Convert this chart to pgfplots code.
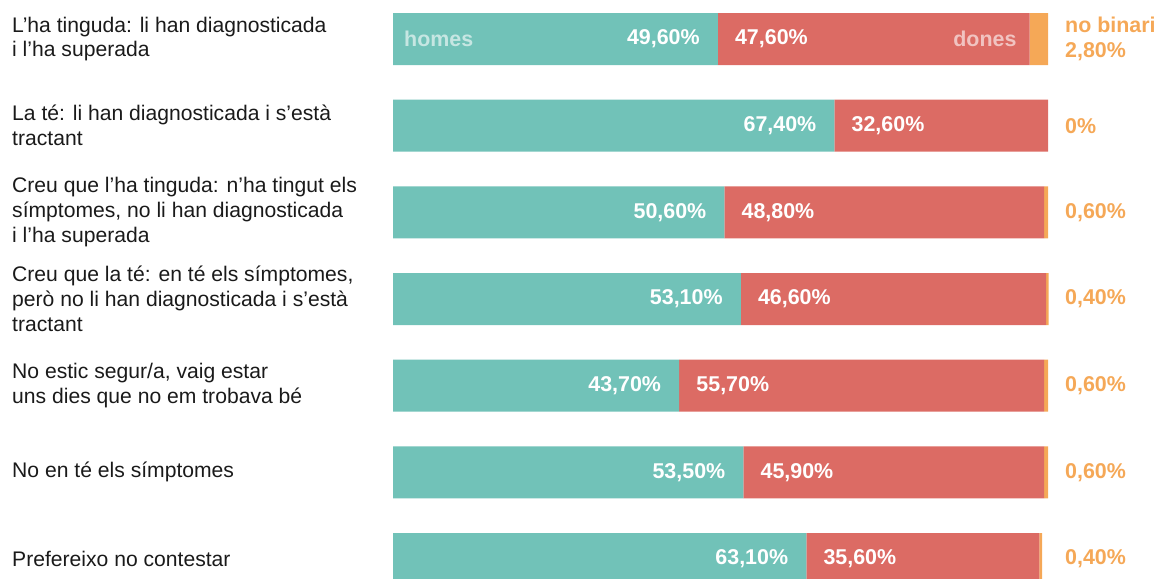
\documentclass[border=0pt]{standalone}
\usepackage{pgfplots}
\pgfplotsset{compat=1.18}
\usepackage{fontspec}
\setmainfont{Liberation Sans}
\definecolor{cteal}{HTML}{71C2B8}
\definecolor{cred}{HTML}{DC6B64}
\definecolor{corange}{HTML}{F5A857}
\definecolor{ctext}{HTML}{1A1A1A}
\begin{document}
\begin{tikzpicture}[
  lbl/.style={font=\fontsize{21.2}{25}\selectfont, text=ctext, anchor=west, align=left, inner sep=0pt},
  pct/.style={font=\fontsize{21.5}{25}\selectfont\bfseries, text=white, inner sep=0pt},
  opct/.style={font=\fontsize{21.5}{25}\selectfont\bfseries, text=corange, inner sep=0pt, anchor=west, align=left},
  sub/.style={font=\fontsize{21.5}{25}\selectfont\bfseries, text=white, text opacity=0.6, inner sep=0pt}
]
\path[use as bounding box] (0,0) rectangle (1157bp,-579bp);
\clip (0,0) rectangle (1157bp,-579bp);
\begin{axis}[
  at={(393bp,4.33bp)}, anchor=north west,
  scale only axis, width=655bp, height=606.67bp,
  xmin=0, xmax=100, ymin=-0.5, ymax=6.5, y dir=reverse,
  hide axis, clip=false,
  xbar stacked, bar width=52bp,
]
\addplot[fill=cteal, draw=none] coordinates {(49.6,0) (67.4,1) (50.6,2) (53.1,3) (43.7,4) (53.5,5) (63.1,6)};
\addplot[fill=cred, draw=none] coordinates {(47.6,0) (32.6,1) (48.8,2) (46.6,3) (55.7,4) (45.9,5) (35.6,6)};
\addplot[fill=corange, draw=none] coordinates {(2.8,0) (0,1) (0.6,2) (0.4,3) (0.6,4) (0.6,5) (0.4,6)};

\coordinate (L0) at (axis cs:0,0);
\coordinate (L1) at (axis cs:0,1);
\coordinate (L2) at (axis cs:0,2);
\coordinate (L3) at (axis cs:0,3);
\coordinate (L4) at (axis cs:0,4);
\coordinate (L5) at (axis cs:0,5);
\coordinate (L6) at (axis cs:0,6);
\coordinate (T0) at (axis cs:49.6,0);
\coordinate (T1) at (axis cs:67.4,1);
\coordinate (T2) at (axis cs:50.6,2);
\coordinate (T3) at (axis cs:53.1,3);
\coordinate (T4) at (axis cs:43.7,4);
\coordinate (T5) at (axis cs:53.5,5);
\coordinate (T6) at (axis cs:63.1,6);
\coordinate (R0) at (axis cs:100,0);
\coordinate (R1) at (axis cs:100,1);
\coordinate (R2) at (axis cs:100,2);
\coordinate (R3) at (axis cs:100,3);
\coordinate (R4) at (axis cs:100,4);
\coordinate (R5) at (axis cs:100,5);
\coordinate (R6) at (axis cs:100,6);
\coordinate (D0) at (axis cs:97.2,0);
\end{axis}

% left labels
\node[lbl] at ([xshift=-381bp]L0) {L’ha tinguda: li han diagnosticada\\i l’ha superada};
\node[lbl] at ([xshift=-381bp]L1) {La té: li han diagnosticada i s’està\\tractant};
\node[lbl] at ([xshift=-381bp]L2) {Creu que l’ha tinguda: n’ha tingut els\\símptomes, no li han diagnosticada\\i l’ha superada};
\node[lbl] at ([xshift=-381bp]L3) {Creu que la té: en té els símptomes,\\però no li han diagnosticada i s’està\\tractant};
\node[lbl] at ([xshift=-381bp]L4) {No estic segur/a, vaig estar\\uns dies que no em trobava bé};
\node[lbl] at ([xshift=-381bp]L5) {No en té els símptomes};
\node[lbl] at ([xshift=-381bp]L6) {Prefereixo no contestar};

% homes / dones
\node[sub, anchor=west] at ([xshift=11bp]L0) {homes};
\node[sub, anchor=east] at ([xshift=-13bp]D0) {dones};

% teal values
\node[pct, anchor=east] at ([xshift=-18bp]T0) {49,60\%};
\node[pct, anchor=east] at ([xshift=-18bp]T1) {67,40\%};
\node[pct, anchor=east] at ([xshift=-18bp]T2) {50,60\%};
\node[pct, anchor=east] at ([xshift=-18bp]T3) {53,10\%};
\node[pct, anchor=east] at ([xshift=-18bp]T4) {43,70\%};
\node[pct, anchor=east] at ([xshift=-18bp]T5) {53,50\%};
\node[pct, anchor=east] at ([xshift=-18bp]T6) {63,10\%};

% red values
\node[pct, anchor=west] at ([xshift=17bp]T0) {47,60\%};
\node[pct, anchor=west] at ([xshift=17bp]T1) {32,60\%};
\node[pct, anchor=west] at ([xshift=17bp]T2) {48,80\%};
\node[pct, anchor=west] at ([xshift=17bp]T3) {46,60\%};
\node[pct, anchor=west] at ([xshift=17bp]T4) {55,70\%};
\node[pct, anchor=west] at ([xshift=17bp]T5) {45,90\%};
\node[pct, anchor=west] at ([xshift=17bp]T6) {35,60\%};

% no binari values
\node[opct] at ([xshift=17bp]R0) {no binari\\2,80\%};
\node[opct] at ([xshift=17bp]R1) {0\%};
\node[opct] at ([xshift=17bp]R2) {0,60\%};
\node[opct] at ([xshift=17bp]R3) {0,40\%};
\node[opct] at ([xshift=17bp]R4) {0,60\%};
\node[opct] at ([xshift=17bp]R5) {0,60\%};
\node[opct] at ([xshift=17bp]R6) {0,40\%};
\end{tikzpicture}
\end{document}
